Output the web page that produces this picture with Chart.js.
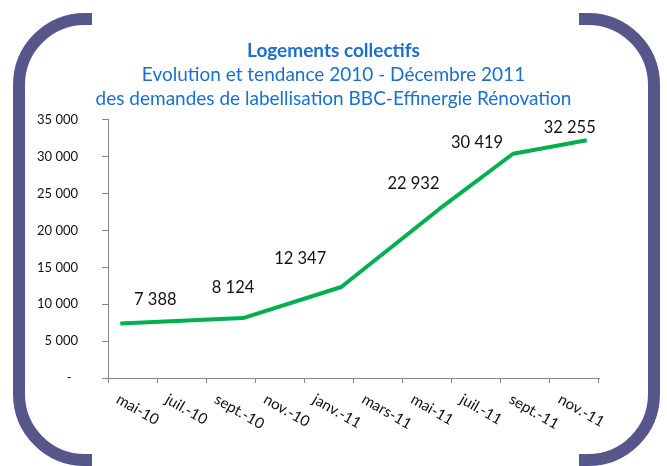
<!DOCTYPE html>
<html lang="fr">
<head>
<meta charset="utf-8">
<title>Logements collectifs</title>
<script src="https://cdn.jsdelivr.net/npm/chart.js@4.4.1/dist/chart.umd.min.js"></script>
<style>
  html, body { margin: 0; padding: 0; background: #fff; }
  canvas { display: block; }
</style>
</head>
<body>
<canvas id="labelChart" width="667" height="466"></canvas>
<script>
// One category per month, May 2010 - December 2011
const months = [
    'mai-10', 'juin-10', 'juil.-10', 'août-10', 'sept.-10', 'oct.-10', 'nov.-10', 'déc.-10',
    'janv.-11', 'févr.-11', 'mars-11', 'avr.-11', 'mai-11', 'juin-11', 'juil.-11', 'août-11',
    'sept.-11', 'oct.-11', 'nov.-11', 'déc.-11'
];

// Cumulated requests, null where no figure was published that month
const demandes = [
    7388, null, null, null, null, 8124, null, null,
    null, 12347, null, null, null, 22932, null, null,
    30419, null, null, 32255
];

// Labels written under the x axis (one every two months)
const xTickLabels = [
    'mai-10', 'juil.-10', 'sept.-10', 'nov.-10', 'janv.-11',
    'mars-11', 'mai-11', 'juil.-11', 'sept.-11', 'nov.-11'
];

// Labels of the y axis, from 0 upward
const yTickLabels = ['-\u2002', '5 000', '10 000', '15 000', '20 000', '25 000', '30 000', '35 000'];

const titleText = 'Logements collectifs';
const subtitleLines = [
    'Evolution et tendance 2010 - Décembre 2011',
    'des demandes de labellisation BBC-Effinergie Rénovation'
];

// Value labels were dragged by hand in the original sheet: offset from their point
const labelShift = [[35, -24], [-10, -30], [-41, -28], [-26, -25], [-36, -11], [-17, -13]];

const BLUE = '#1a6fd0';
const GREEN = '#00b050';
const AXIS = '#868686';
const TEXT = '#111111';

function fmt(v) {
    return String(v).replace(/\B(?=(\d{3})+(?!\d))/g, ' ');
}

// White page and the two bracket shapes round the chart
const frame = {
    id: 'frame',
    beforeDraw(chart) {
        const ctx = chart.ctx;
        ctx.save();
        ctx.fillStyle = '#fff';
        ctx.fillRect(0, 0, chart.width, chart.height);
        ctx.strokeStyle = '#55568a';
        ctx.lineWidth = 12;
        ctx.beginPath();
        ctx.moveTo(92, 19);
        ctx.arc(85, 85, 66, -Math.PI / 2, Math.PI, true);
        ctx.arc(85, 394, 66, Math.PI, Math.PI / 2, true);
        ctx.lineTo(92, 460);
        ctx.moveTo(579, 19);
        ctx.arc(588, 85, 66, -Math.PI / 2, 0);
        ctx.arc(588, 394, 66, 0, Math.PI / 2);
        ctx.lineTo(579, 460);
        ctx.stroke();
        ctx.restore();
    }
};

// Numbers printed next to each reading
const valueLabels = {
    id: 'valueLabels',
    afterDatasetsDraw(chart) {
        const ctx = chart.ctx;
        const meta = chart.getDatasetMeta(0);
        ctx.save();
        ctx.font = '16.5px Lato';
        ctx.fillStyle = TEXT;
        ctx.textAlign = 'center';
        ctx.textBaseline = 'middle';
        let n = 0;
        demandes.forEach((v, i) => {
            if (v === null) return;
            const pt = meta.data[i];
            const [dx, dy] = labelShift[n++];
            ctx.fillText(fmt(v), pt.x + dx, pt.y + dy);
        });
        ctx.restore();
    }
};

// Month labels slanted downward, between the tick marks
const slantedTicks = {
    id: 'slantedTicks',
    afterDraw(chart) {
        const x = chart.scales.x;
        const ctx = chart.ctx;
        ctx.save();
        ctx.font = '15px Lato';
        ctx.fillStyle = TEXT;
        ctx.textAlign = 'left';
        ctx.textBaseline = 'middle';
        xTickLabels.forEach((label, k) => {
            const px = (x.getPixelForValue(2 * k) + x.getPixelForValue(2 * k + 1)) / 2;
            ctx.save();
            ctx.translate(px - 15, x.top + 20);
            ctx.rotate(Math.PI / 6);
            ctx.fillText(label, 0, 0);
            ctx.restore();
        });
        ctx.restore();
    }
};

function drawChart() {
    const ctx = document.getElementById('labelChart').getContext('2d');
    return new Chart(ctx, {
        type: 'line',
        data: {
            labels: months,
            datasets: [{
                data: demandes,
                borderColor: GREEN,
                borderWidth: 4,
                borderJoinStyle: 'round',
                pointRadius: 0,
                pointHoverRadius: 0,
                spanGaps: true,
                tension: 0
            }]
        },
        options: {
            responsive: false,
            animation: false,
            events: [],
            layout: { padding: 0 },
            plugins: {
                legend: { display: false },
                tooltip: { enabled: false },
                title: {
                    display: true,
                    text: titleText,
                    color: BLUE,
                    font: { family: 'Lato', size: 19, weight: 'bold', lineHeight: 1.263 },
                    padding: { top: 39, bottom: 0 }
                },
                subtitle: {
                    display: true,
                    text: subtitleLines,
                    color: BLUE,
                    font: { family: 'Lato', size: 19, weight: 'normal', lineHeight: 1.263 },
                    padding: { top: 0, bottom: 9 }
                }
            },
            scales: {
                x: {
                    type: 'category',
                    offset: true,
                    ticks: { display: false },
                    grid: {
                        offset: true,
                        drawOnChartArea: false,
                        tickLength: 5,
                        color: c => (c.index === undefined || c.index % 2 === 0) ? AXIS : 'rgba(0,0,0,0)'
                    },
                    border: { color: AXIS, width: 1 },
                    afterFit: s => { s.height = 88; }
                },
                y: {
                    min: 0,
                    max: 35000,
                    ticks: {
                        stepSize: 5000,
                        padding: 24,
                        color: TEXT,
                        font: { family: 'Lato', size: 13 },
                        callback: (v, i) => yTickLabels[i]
                    },
                    grid: { drawOnChartArea: false, tickLength: 6, color: AXIS },
                    border: { color: AXIS, width: 1 },
                    afterFit: s => { s.width = 108; }
                },
                // empty right margin so the titles stay centred on the page
                spacer: {
                    position: 'right',
                    display: true,
                    ticks: { display: false },
                    grid: { display: false },
                    border: { display: false },
                    afterFit: s => { s.width = 68; }
                }
            }
        },
        plugins: [frame, valueLabels, slantedTicks]
    });
}

Promise.all([
    document.fonts.load('16px Lato'),
    document.fonts.load('bold 18px Lato')
]).then(drawChart, drawChart);
</script>
</body>
</html>
